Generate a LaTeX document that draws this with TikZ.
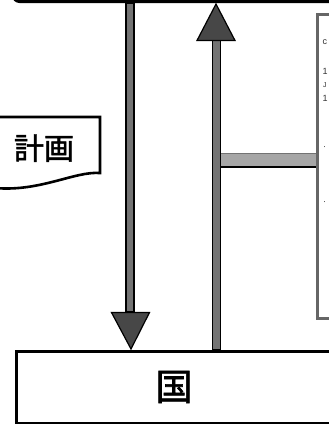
\documentclass[tikz,border=0pt]{standalone}
\usepackage{fontspec}
\newfontfamily\jp{Noto Sans CJK JP}[FakeBold=1.6]
\setsansfont{Liberation Sans}
\usetikzlibrary{calc}
\tikzset{
  frame/.style={draw=black, line width=3pt, fill=white, inner sep=0pt},
  shaft/.style={fill=black!55, draw=black, line width=1.8pt},
  head/.style={fill=black!72, draw=black, line width=1.2pt, line join=miter},
  dotbox/.style={draw=black!60, line width=3.2pt},
  frag/.style={anchor=west, inner sep=0pt, font=\sffamily\fontsize{9}{9}\selectfont, text=black!80},
  jplabel/.style={inner sep=0pt, font=\jp\fontsize{#1}{#1}\selectfont}
}
\begin{document}
\begin{tikzpicture}[x=1pt,y=-1pt]
\useasboundingbox (0,0) rectangle (329,424);
\begin{scope}
\clip (0,0) rectangle (329,424);
\fill[white] (0,0) rectangle (329,424);
% top box
\node[frame, rounded corners=6pt, anchor=south west, minimum width=340pt, minimum height=50pt] (top) at (12,3) {};
% right dotted box
\node[dotbox, anchor=north west, minimum width=40pt, minimum height=304pt, inner sep=0pt] (rbox) at (316,13) {};
% gray band
\fill[black!35] (221,153) rectangle (rbox.west |- 0,167);
\draw[black!55, line width=0.8pt] (221,153.5) -- (rbox.west |- 0,153.5);
\draw[black, line width=1.6pt] (221,167) -- (rbox.west |- 0,167);
% document shape
\draw[line width=2.6pt, fill=white] (-5,117) -- (100,117) -- (100,173) .. controls (75,171) and (40,192) .. (-5,188);
\node[jplabel=30] (keikaku) at (44,148) {計画};
% bottom box
\node[frame, anchor=north west, minimum width=330pt, minimum height=72pt] (kuni) at (15,350) {};
\node[jplabel=37] (kunilabel) at (174,387) {国};
% coordinates for arrows
\coordinate (dtop) at (130,3);
\coordinate (utop) at (216,3);
% down arrow
\filldraw[shaft] ($(dtop|-top.south)+(-4,0)$) rectangle ($(dtop|-kuni.north)+(4,-38)$);
\filldraw[head] ($(dtop|-kuni.north)+(-18.5,-37.5)$) -- ($(dtop|-kuni.north)+(19.5,-37.5)$) -- ($(dtop|-kuni.north)+(1,-1)$) -- cycle;
% up arrow
\filldraw[shaft] ($(utop|-kuni.north)+(-3.5,0)$) rectangle ($(utop|-top.south)+(4.5,37)$);
\filldraw[head] ($(utop|-top.south)+(-19,37.5)$) -- ($(utop|-top.south)+(19,37.5)$) -- ($(utop|-top.south)+(0,1)$) -- cycle;
% text fragments at the right edge
\node[frag] (f1) at (322.5,42) {c};
\node[frag] (f2) at (322.5,71) {1};
\node[frag, font=\sffamily\fontsize{7}{7}\selectfont] (f3) at (323,85) {J};
\node[frag] (f4) at (322.5,98) {1};
\node[frag] (f5) at (323,148) {·};
\node[frag] (f6) at (323,203) {·};
\end{scope}
\end{tikzpicture}
\end{document}
